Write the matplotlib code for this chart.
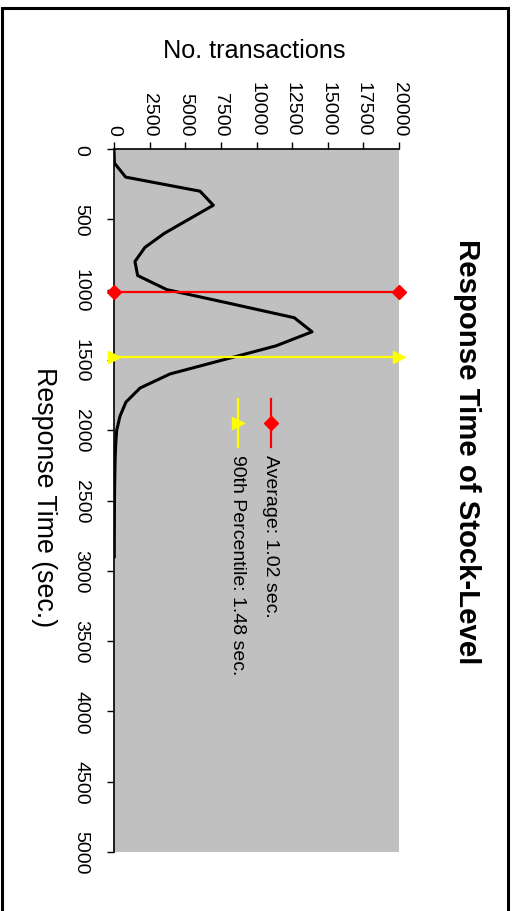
import matplotlib
matplotlib.use("Agg")
import matplotlib.pyplot as plt
from matplotlib.patches import Rectangle

plt.rcParams['font.family'] = ['Liberation Sans', 'DejaVu Sans']

# response time buckets (sec. x 1000) and number of transactions in each
resp_time = [0, 100, 200, 300, 400, 500, 600, 700, 800, 900, 1000, 1100, 1200,
             1300, 1400, 1500, 1600, 1700, 1800, 1900, 2000, 2100, 2200, 2300,
             2400, 2500, 2600, 2700, 2800, 2900]
n_trans = [0, 30, 820, 6035, 6970, 5250, 3530, 2170, 1470, 1660, 3700, 8200,
           12650, 13900, 11370, 7650, 3930, 1830, 840, 420, 190, 120, 80, 60,
           45, 35, 30, 25, 20, 20]

avg_rt = 1020
p90_rt = 1480
avg_label = "Average: 1.02 sec."
p90_label = "90th Percentile: 1.48 sec."

x_ticks = [0, 2500, 5000, 7500, 10000, 12500, 15000, 17500, 20000]
y_ticks = [0, 500, 1000, 1500, 2000, 2500, 3000, 3500, 4000, 4500, 5000]

fig = plt.figure(figsize=(5.12, 9.12), dpi=100)
ax = fig.add_axes([114 / 512, 1 - 853 / 912, 285 / 512, 703 / 912])
ax.set_facecolor('#C0C0C0')

# chart is laid out turned on its side: transactions across, time downward
ax.plot(n_trans, resp_time, color='black', lw=2.2)
ax.plot([0, 20000], [avg_rt, avg_rt], color='red', lw=1.6,
        marker='D', ms=7, clip_on=False, zorder=4)
ax.plot([0, 20000], [p90_rt, p90_rt], color='yellow', lw=1.6,
        marker='>', ms=9, clip_on=False, zorder=4)

ax.set_xlim(0, 20000)
ax.set_ylim(5000, 0)
ax.set_xticks(x_ticks)
ax.set_yticks(y_ticks)
ax.xaxis.tick_top()
ax.tick_params(axis='x', top=True, bottom=False, direction='out', length=5,
               width=1, pad=5, labelsize=14, labelrotation=-90)
ax.tick_params(axis='y', direction='out', length=5, width=1, pad=12.5,
               labelsize=14, labelrotation=-90)
for lab in ax.get_yticklabels():
    lab.set_va('center')

for side in ('right', 'bottom'):
    ax.spines[side].set_visible(False)
for side in ('top', 'left'):
    ax.spines[side].set_linewidth(1.2)
    ax.spines[side].set_color('black')

# legend drawn inside the plot area
ax.plot([0.551, 0.551], [0.644, 0.576], transform=ax.transAxes,
        color='red', lw=1.6)
ax.plot([0.551], [0.610], transform=ax.transAxes, color='red',
        marker='D', ms=7)
ax.plot([0.435, 0.435], [0.644, 0.576], transform=ax.transAxes,
        color='yellow', lw=1.6)
ax.plot([0.435], [0.610], transform=ax.transAxes, color='yellow',
        marker='>', ms=9)
ax.text(0.548, 0.566, avg_label, transform=ax.transAxes, rotation=-90,
        ha='center', va='top', fontsize=14)
ax.text(0.432, 0.566, p90_label, transform=ax.transAxes, rotation=-90,
        ha='center', va='top', fontsize=14)

fig.text(254 / 512, 1 - 51 / 912, "No. transactions", ha='center',
         va='center', fontsize=18.2)
fig.text(44 / 512, 1 - 497 / 912, "Response Time (sec.)", rotation=-90,
         ha='center', va='center', fontsize=19.3)
fig.text(467 / 512, 1 - 452 / 912, "Response Time of Stock-Level",
         rotation=-90, ha='center', va='center', fontsize=21.2,
         fontweight='bold')

fig.patches.append(Rectangle((2 / 512, -0.05), 506 / 512, 1.05 - 9 / 912,
                             transform=fig.transFigure, fill=False,
                             edgecolor='black', lw=2.2, clip_on=False))

fig.savefig("out.png", dpi=100, facecolor='white')
